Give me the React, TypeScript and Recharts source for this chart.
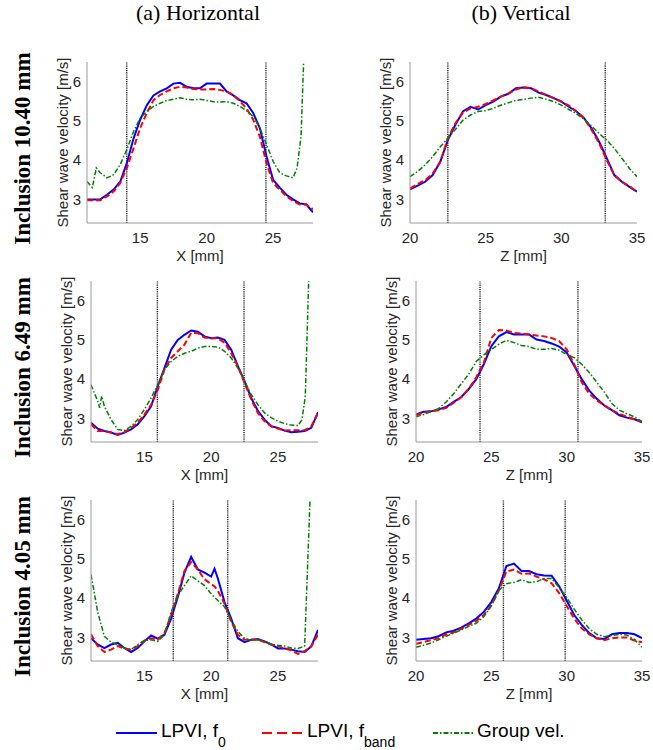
import React from 'react';
import { LineChart, Line, XAxis, YAxis, ReferenceLine } from 'recharts';

// shared x grids [mm]
const hX = [11, 11.5, 12, 12.5, 13, 13.5, 14, 14.5, 15, 15.5, 16, 16.5, 17, 17.5, 18, 18.5, 19, 19.5, 20, 20.5, 21, 21.5, 22, 22.5, 23, 23.5, 24, 24.5, 25, 25.5, 26, 26.5, 27, 27.5, 28];
const vX = [20, 20.5, 21, 21.5, 22, 22.5, 23, 23.5, 24, 24.5, 25, 25.5, 26, 26.5, 27, 27.5, 28, 28.5, 29, 29.5, 30, 30.5, 31, 31.5, 32, 32.5, 33, 33.5, 34, 34.5, 35];
const h3X = [11, 11.5, 12, 12.5, 13, 13.5, 14, 14.5, 15, 15.5, 16, 16.5, 17, 17.5, 18, 18.5, 19, 19.5, 20, 20.25, 20.5, 21, 21.5, 22, 22.5, 23, 23.5, 24, 24.5, 25, 25.5, 26, 26.5, 27, 27.5, 28];

// Inclusion 10.40 mm, horizontal
const h1F0 = [3.0, 3.0, 3.0, 3.12, 3.25, 3.45, 3.93, 4.55, 5.03, 5.4, 5.65, 5.75, 5.83, 5.95, 5.97, 5.87, 5.83, 5.83, 5.95, 5.95, 5.95, 5.75, 5.65, 5.53, 5.45, 5.2, 4.82, 4.1, 3.5, 3.3, 3.12, 3.0, 2.9, 2.87, 2.67];
const h1Band = [2.98, 2.98, 2.98, 3.08, 3.2, 3.42, 3.8, 4.3, 4.82, 5.2, 5.53, 5.66, 5.75, 5.83, 5.87, 5.85, 5.81, 5.8, 5.8, 5.81, 5.79, 5.75, 5.66, 5.5, 5.32, 5.03, 4.6, 3.93, 3.42, 3.25, 3.08, 2.96, 2.87, 2.87, 2.75];
const h1GroupX = [11, 11.4, 11.7, 12, 12.5, 13, 13.5, 14, 14.5, 15, 15.5, 16, 16.5, 17, 17.5, 18, 18.5, 19, 19.5, 20, 20.5, 21, 21.5, 22, 22.5, 23, 23.5, 24, 24.5, 25, 25.5, 26, 26.5, 26.8, 27.1, 27.5];
const h1Group = [3.46, 3.3, 3.8, 3.68, 3.55, 3.63, 3.89, 4.27, 4.73, 5.07, 5.24, 5.37, 5.45, 5.52, 5.55, 5.59, 5.55, 5.54, 5.55, 5.52, 5.49, 5.48, 5.49, 5.45, 5.37, 5.26, 5.11, 4.82, 4.4, 3.97, 3.68, 3.6, 3.55, 3.8, 4.6, 8.5];

// Inclusion 10.40 mm, vertical
const v1F0 = [3.26, 3.35, 3.45, 3.62, 3.96, 4.51, 4.9, 5.24, 5.36, 5.29, 5.4, 5.49, 5.62, 5.69, 5.83, 5.85, 5.83, 5.72, 5.66, 5.58, 5.49, 5.36, 5.24, 5.07, 4.81, 4.47, 4.05, 3.62, 3.45, 3.32, 3.2];
const v1Band = [3.28, 3.39, 3.49, 3.66, 3.96, 4.56, 4.94, 5.21, 5.32, 5.36, 5.43, 5.52, 5.62, 5.7, 5.8, 5.86, 5.83, 5.75, 5.66, 5.58, 5.49, 5.39, 5.24, 5.07, 4.77, 4.43, 4.0, 3.62, 3.45, 3.34, 3.18];
const v1Group = [3.58, 3.71, 3.88, 4.09, 4.34, 4.56, 4.78, 5.02, 5.15, 5.24, 5.26, 5.32, 5.4, 5.46, 5.52, 5.55, 5.58, 5.6, 5.55, 5.49, 5.4, 5.29, 5.18, 5.04, 4.87, 4.68, 4.51, 4.3, 4.05, 3.79, 3.58];

// Inclusion 6.49 mm, horizontal
const h2F0 = [2.89, 2.74, 2.68, 2.64, 2.58, 2.64, 2.72, 2.85, 3.06, 3.31, 3.82, 4.28, 4.75, 5.0, 5.13, 5.24, 5.21, 5.09, 5.04, 5.06, 5.0, 4.75, 4.33, 3.95, 3.52, 3.19, 2.97, 2.8, 2.76, 2.69, 2.65, 2.66, 2.68, 2.76, 3.16];
const h2Band = [2.85, 2.68, 2.68, 2.64, 2.6, 2.65, 2.76, 2.89, 3.1, 3.35, 3.73, 4.24, 4.54, 4.71, 4.88, 5.18, 5.17, 5.06, 5.04, 5.04, 4.93, 4.66, 4.33, 3.9, 3.48, 3.14, 2.93, 2.8, 2.74, 2.69, 2.7, 2.7, 2.7, 2.8, 3.14];
const h2GroupX = [11, 11.5, 11.65, 11.8, 12, 12.5, 13, 13.5, 14, 14.5, 15, 15.5, 16, 16.5, 17, 17.5, 18, 18.5, 19, 19.5, 20, 20.5, 21, 21.5, 22, 22.5, 23, 23.5, 24, 24.5, 25, 25.5, 26, 26.5, 26.8, 27.05, 27.5];
const h2Group = [3.86, 3.44, 3.27, 3.57, 3.31, 2.97, 2.72, 2.69, 2.8, 2.97, 3.23, 3.52, 3.86, 4.24, 4.45, 4.58, 4.66, 4.71, 4.79, 4.83, 4.83, 4.82, 4.71, 4.54, 4.28, 3.95, 3.61, 3.35, 3.14, 3.02, 2.93, 2.87, 2.83, 2.82, 2.97, 3.57, 8.8];

// Inclusion 6.49 mm, vertical
const v2F0 = [3.1, 3.17, 3.18, 3.23, 3.29, 3.42, 3.54, 3.75, 4.0, 4.38, 4.84, 5.09, 5.2, 5.14, 5.14, 5.14, 5.01, 4.97, 4.91, 4.83, 4.68, 4.34, 4.0, 3.71, 3.5, 3.33, 3.21, 3.08, 3.02, 2.98, 2.9];
const v2Band = [3.08, 3.15, 3.18, 3.21, 3.27, 3.4, 3.54, 3.75, 4.05, 4.42, 5.05, 5.25, 5.24, 5.18, 5.16, 5.14, 5.11, 5.09, 5.05, 4.97, 4.76, 4.38, 3.92, 3.63, 3.46, 3.33, 3.21, 3.12, 3.04, 2.98, 2.92];
const v2Group = [3.04, 3.1, 3.17, 3.25, 3.42, 3.63, 3.88, 4.13, 4.45, 4.62, 4.76, 4.89, 4.99, 4.93, 4.86, 4.83, 4.76, 4.76, 4.78, 4.74, 4.63, 4.55, 4.38, 4.17, 3.92, 3.67, 3.38, 3.21, 3.12, 3.04, 2.92];

// Inclusion 4.05 mm, horizontal
const h3F0 = [2.98, 2.82, 2.73, 2.82, 2.86, 2.73, 2.63, 2.73, 2.9, 3.05, 2.97, 3.07, 3.48, 4.03, 4.65, 5.05, 4.73, 4.65, 4.55, 4.75, 4.5, 3.9, 3.48, 2.98, 2.88, 2.94, 2.96, 2.9, 2.82, 2.72, 2.72, 2.69, 2.65, 2.63, 2.77, 3.19];
const h3Band = [3.08, 2.78, 2.63, 2.69, 2.78, 2.72, 2.69, 2.78, 2.92, 2.98, 2.94, 3.11, 3.57, 4.11, 4.69, 4.92, 4.73, 4.48, 4.36, 4.3, 4.19, 3.86, 3.4, 3.07, 2.94, 2.94, 2.94, 2.88, 2.82, 2.78, 2.72, 2.67, 2.58, 2.65, 2.78, 3.07];
const h3Group = [4.6, 3.65, 3.03, 2.88, 2.82, 2.73, 2.69, 2.82, 2.92, 2.94, 2.9, 3.07, 3.65, 4.07, 4.32, 4.57, 4.44, 4.32, 4.11, 4.02, 3.94, 3.78, 3.44, 3.15, 2.98, 2.92, 2.94, 2.9, 2.83, 2.8, 2.78, 2.73, 2.72, 2.78, 7.4, null];

// Inclusion 4.05 mm, vertical
const v3F0 = [2.94, 2.96, 2.98, 3.03, 3.13, 3.17, 3.25, 3.36, 3.48, 3.65, 3.9, 4.25, 4.82, 4.88, 4.69, 4.69, 4.61, 4.58, 4.57, 4.3, 3.94, 3.57, 3.32, 3.11, 2.98, 2.96, 3.08, 3.11, 3.11, 3.08, 2.98];
const v3Band = [2.84, 2.88, 2.93, 2.98, 3.08, 3.13, 3.22, 3.32, 3.42, 3.57, 3.82, 4.19, 4.68, 4.73, 4.62, 4.63, 4.55, 4.48, 4.38, 4.13, 3.8, 3.48, 3.23, 3.08, 2.98, 2.93, 2.98, 3.0, 3.0, 2.92, 2.88];
const v3Group = [2.75, 2.8, 2.86, 2.94, 3.03, 3.11, 3.19, 3.28, 3.36, 3.53, 3.8, 4.2, 4.37, 4.4, 4.47, 4.4, 4.42, 4.5, 4.5, 4.27, 4.02, 3.72, 3.45, 3.22, 3.08, 3.02, 3.05, 3.08, 3.06, 2.95, 2.75];

// inclusion boundaries (dotted lines)
const h1Marks = [13.99, 24.46];
const v1Marks = [22.5, 32.9];
const h2Marks = [15.97, 22.46];
const v2Marks = [24.25, 30.75];
const h3Marks = [17.16, 21.24];
const v3Marks = [25.8, 29.9];

const hTicks = [15, 20, 25];
const vTicks = [20, 25, 30, 35];
const yTicks = [3, 4, 5, 6];

const toPoints = (xs: number[], ys: (number | null)[]) => xs.map((x, i) => ({ x, y: ys[i] }));

const sans = '"Liberation Sans", Arial, sans-serif';
const serif = '"Liberation Serif", "Times New Roman", serif';
const BLUE = '#0000ff';
const RED = '#ff0000';
const GREEN = '#008000';

type Box = { left: number; top: number; width: number; height: number };
type Pt = { x: number; y: number | null };

const PAD_L = 40;
const PAD_T = 6;
const PAD_R = 12;
const PAD_B = 30;

interface PanelProps {
  box: Box;
  xDomain: [number, number];
  xTicks: number[];
  marks: number[];
  f0: Pt[];
  band: Pt[];
  group: Pt[];
}

const Panel = ({ box, xDomain, xTicks, marks, f0, band, group }: PanelProps) => {
  const tick = { fontSize: 15, fill: '#262626', fontFamily: sans };
  return (
    <div style={{ position: 'absolute', left: box.left - PAD_L, top: box.top - PAD_T }}>
      <LineChart
        width={box.width + PAD_L + PAD_R}
        height={box.height + PAD_T + PAD_B}
        margin={{ top: PAD_T, right: PAD_R, bottom: 0, left: 0 }}
      >
        <XAxis
          type="number"
          dataKey="x"
          domain={xDomain}
          ticks={xTicks}
          interval={0}
          allowDataOverflow
          height={PAD_B}
          tickLine={false}
          tickSize={6}
          tickMargin={3}
          stroke="#9a9a9a"
          tick={tick}
        />
        <YAxis
          type="number"
          dataKey="y"
          domain={[2.4, 6.5]}
          ticks={yTicks}
          interval={0}
          allowDataOverflow
          width={PAD_L}
          tickLine={false}
          tickSize={4}
          tickMargin={2}
          stroke="#9a9a9a"
          tick={tick}
        />
        {marks.map((m) => (
          <ReferenceLine key={m} x={m} stroke="#222" strokeWidth={1.4} strokeDasharray="1.2 1" />
        ))}
        <Line data={f0} dataKey="y" stroke={BLUE} strokeWidth={2} dot={false} activeDot={false} isAnimationActive={false} />
        <Line data={band} dataKey="y" stroke={RED} strokeWidth={2} strokeDasharray="6 3" dot={false} activeDot={false} isAnimationActive={false} />
        <Line data={group} dataKey="y" stroke={GREEN} strokeWidth={1.5} strokeDasharray="5 2 1.5 2" dot={false} activeDot={false} isAnimationActive={false} />
      </LineChart>
    </div>
  );
};

const boxes: Box[] = [
  { left: 87, top: 62, width: 226, height: 161 },
  { left: 410, top: 62, width: 227, height: 161 },
  { left: 91, top: 281, width: 227, height: 161 },
  { left: 416, top: 281, width: 226, height: 161 },
  { left: 91, top: 500, width: 227, height: 161 },
  { left: 416, top: 500, width: 226, height: 161 },
];

const rowLabels = ['Inclusion 10.40 mm', 'Inclusion 6.49 mm', 'Inclusion 4.05 mm'];

export default function App() {
  const panels: PanelProps[] = [
    { box: boxes[0], xDomain: [11, 28], xTicks: hTicks, marks: h1Marks, f0: toPoints(hX, h1F0), band: toPoints(hX, h1Band), group: toPoints(h1GroupX, h1Group) },
    { box: boxes[1], xDomain: [20, 35], xTicks: vTicks, marks: v1Marks, f0: toPoints(vX, v1F0), band: toPoints(vX, v1Band), group: toPoints(vX, v1Group) },
    { box: boxes[2], xDomain: [11, 28], xTicks: hTicks, marks: h2Marks, f0: toPoints(hX, h2F0), band: toPoints(hX, h2Band), group: toPoints(h2GroupX, h2Group) },
    { box: boxes[3], xDomain: [20, 35], xTicks: vTicks, marks: v2Marks, f0: toPoints(vX, v2F0), band: toPoints(vX, v2Band), group: toPoints(vX, v2Group) },
    { box: boxes[4], xDomain: [11, 28], xTicks: hTicks, marks: h3Marks, f0: toPoints(h3X, h3F0), band: toPoints(h3X, h3Band), group: toPoints(h3X, h3Group) },
    { box: boxes[5], xDomain: [20, 35], xTicks: vTicks, marks: v3Marks, f0: toPoints(vX, v3F0), band: toPoints(vX, v3Band), group: toPoints(vX, v3Group) },
  ];

  return (
    <div style={{ position: 'absolute', left: 0, top: 0, width: 653, height: 750, background: '#fff', overflow: 'hidden' }}>
      {panels.map((p, i) => (
        <Panel key={i} {...p} />
      ))}
      <svg width={653} height={750} style={{ position: 'absolute', left: 0, top: 0, pointerEvents: 'none' }}>
        {/* column titles */}
        <text x={198} y={20} textAnchor="middle" fontFamily={serif} fontSize={22} fill="#000">(a) Horizontal</text>
        <text x={521} y={20} textAnchor="middle" fontFamily={serif} fontSize={22} fill="#000">(b) Vertical</text>

        {/* row labels */}
        {rowLabels.map((t, r) => {
          const b = boxes[r * 2];
          const cy = b.top + b.height / 2 + 6;
          return (
            <text key={t} transform={`translate(30, ${cy}) rotate(-90)`} textAnchor="middle" fontFamily={serif} fontWeight="bold" fontSize={23} fill="#000">
              {t}
            </text>
          );
        })}

        {/* axis titles */}
        {boxes.map((b, i) => (
          <g key={i}>
            <text
              transform={`translate(${b.left - 19}, ${b.top + b.height / 2}) rotate(-90)`}
              textAnchor="middle"
              fontFamily={sans}
              fontSize={15}
              fill="#262626"
            >
              Shear wave velocity [m/s]
            </text>
            <text x={b.left + b.width / 2} y={b.top + b.height + 38} textAnchor="middle" fontFamily={sans} fontSize={15} fill="#262626">
              {i % 2 === 0 ? 'X [mm]' : 'Z [mm]'}
            </text>
          </g>
        ))}

        {/* legend */}
        <line x1={116} y1={733} x2={157} y2={733} stroke={BLUE} strokeWidth={2} />
        <text x={161} y={737} fontFamily={sans} fontSize={19} fill="#000">
          LPVI, f<tspan fontSize={14} dy={10}>0</tspan>
        </text>
        <line x1={262} y1={733} x2={302} y2={733} stroke={RED} strokeWidth={2} strokeDasharray="10 5" />
        <text x={307} y={737} fontFamily={sans} fontSize={19} fill="#000">
          LPVI, f<tspan fontSize={14} dy={10}>band</tspan>
        </text>
        <line x1={433} y1={733} x2={473} y2={733} stroke={GREEN} strokeWidth={2} strokeDasharray="5 2 1.5 2" />
        <text x={477} y={737} fontFamily={sans} fontSize={19} fill="#000">Group vel.</text>
      </svg>
    </div>
  );
}
